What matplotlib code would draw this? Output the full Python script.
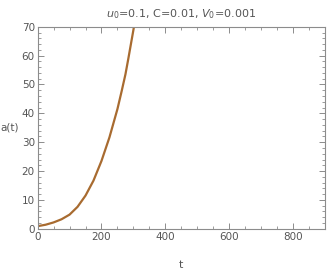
import matplotlib
matplotlib.use('Agg')
import matplotlib.pyplot as plt
from matplotlib.ticker import MultipleLocator

# значения
t_vals = [0, 25, 50, 75, 100, 125, 150, 175, 200, 225, 250, 263, 275, 284, 292, 300, 310]
a_vals = [0.9, 1.4, 2.2, 3.3, 4.9, 7.6, 11.5, 16.7, 23.5, 31.7, 41.5, 47.6, 53.5, 58.9, 63.9, 68.9, 75.6]

title = r'$u_0$=0.1, C=0.01, $V_0$=0.001'
line_color = '#a86b30'
frame_color = '#8c8c8c'
text_color = '#555555'

fig = plt.figure(figsize=(3.27, 2.73), dpi=100)
ax = fig.add_axes([0.115, 0.162, 0.879, 0.740])

ax.plot(t_vals, a_vals, color=line_color, lw=1.6)

ax.set_xlim(0, 900)
ax.set_ylim(0, 70)
ax.xaxis.set_major_locator(MultipleLocator(200))
ax.xaxis.set_minor_locator(MultipleLocator(50))
ax.yaxis.set_major_locator(MultipleLocator(10))
ax.yaxis.set_minor_locator(MultipleLocator(2))

for s in ax.spines.values():
    s.set_color(frame_color)
    s.set_linewidth(0.8)
ax.tick_params(which='both', direction='in', top=True, right=True,
               color=frame_color, labelcolor=text_color, labelsize=7.5, pad=2)
ax.tick_params(which='major', length=4, width=0.7)
ax.tick_params(which='minor', length=2, width=0.6)

ax.set_title(title, fontsize=8, color=text_color, pad=7)
ax.set_xlabel('t', fontsize=8, color=text_color, labelpad=13)
ax.set_ylabel('a(t)', fontsize=7.5, color=text_color, rotation=0, ha='center', va='center')
ax.yaxis.set_label_coords(-0.098, 0.5)

fig.savefig('out.png', dpi=100)
